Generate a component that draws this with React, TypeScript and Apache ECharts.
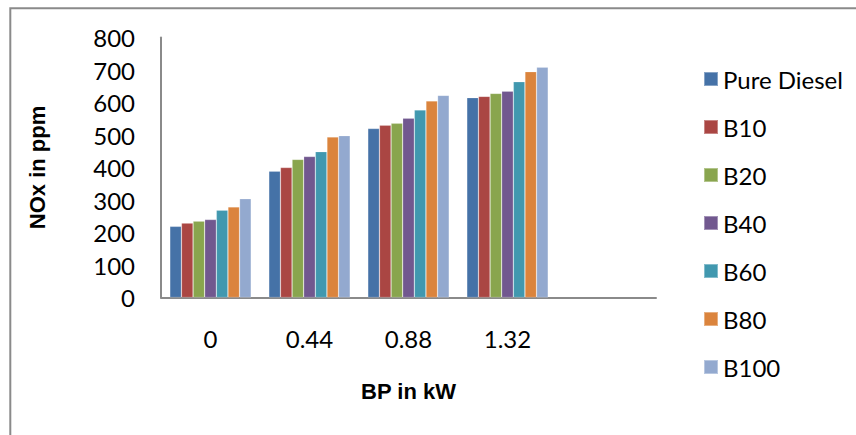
import React, { useEffect, useRef } from "react";
import * as echarts from "echarts";

const categories = ["0", "0.44", "0.88", "1.32", ""];
const seriesNames = ["Pure Diesel", "B10", "B20", "B40", "B60", "B80", "B100"];
const pureDiesel = [219, 389, 520, 615];
const b10 = [229, 400, 530, 619];
const b20 = [235, 425, 536, 628];
const b40 = [240, 434, 552, 635];
const b60 = [269, 449, 577, 664];
const b80 = [279, 494, 605, 695];
const b100 = [304, 498, 622, 709];
const yTicks = { min: 0, max: 800, interval: 100 };
const colors = ["#4572A7", "#AA4643", "#89A54E", "#71588F", "#4198AF", "#DB843D", "#93A9CF"];

export default function App() {
  const ref = useRef<HTMLDivElement>(null);
  useEffect(() => {
    if (!ref.current) return;
    const chart = echarts.init(ref.current, undefined, { renderer: "svg" });
    const values = [pureDiesel, b10, b20, b40, b60, b80, b100];
    chart.setOption({
      animation: false,
      color: colors,
      textStyle: { fontFamily: "Lato, sans-serif" },
      graphic: [
        {
          type: "rect",
          shape: { x: 10.3, y: 8.3, width: 900, height: 500 },
          style: { fill: "none", stroke: "#8a8a8a", lineWidth: 2 },
          silent: true,
        },
      ],
      grid: { left: 161, right: 200, top: 37.5, bottom: 137.5, containLabel: false },
      legend: {
        orient: "vertical",
        left: 698,
        top: 62,
        itemWidth: 14,
        itemHeight: 14,
        itemGap: 24,
        icon: "rect",
        data: seriesNames,
        textStyle: { fontSize: 24, lineHeight: 24, color: "#000", fontFamily: "Lato, sans-serif", padding: 0 },
      },
      xAxis: {
        type: "category",
        data: categories,
        axisLine: { show: true, lineStyle: { color: "#8a8a8a", width: 2 } },
        axisTick: { show: false },
        axisLabel: { fontSize: 24, color: "#000", margin: 29, fontFamily: "Lato, sans-serif" },
        name: "BP in kW",
        nameLocation: "middle",
        nameGap: 83,
        nameTextStyle: { fontSize: 22, fontWeight: "bold", color: "#000", fontFamily: "'Liberation Sans', sans-serif" },
        splitLine: { show: false },
      },
      yAxis: {
        type: "value",
        min: yTicks.min,
        max: yTicks.max,
        interval: yTicks.interval,
        axisLine: { show: true, lineStyle: { color: "#8a8a8a", width: 2 } },
        axisTick: { show: false },
        splitLine: { show: false },
        axisLabel: { fontSize: 24, color: "#000", margin: 26, fontFamily: "Lato, sans-serif" },
        name: "NOx in ppm",
        nameLocation: "middle",
        nameGap: 113,
        nameTextStyle: { fontSize: 22, fontWeight: "bold", color: "#000", fontFamily: "'Liberation Sans', sans-serif" },
      },
      series: seriesNames.map((name, i) => ({
        name,
        type: "bar",
        data: values[i],
        barGap: "0%",
        barCategoryGap: "17.8%",
        itemStyle: { color: colors[i], borderColor: "rgba(255,255,255,0.35)", borderWidth: 0.6 },
      })),
    });
    return () => chart.dispose();
  }, []);
  return (
    <div
      ref={ref}
      style={{ position: "absolute", left: 0, top: 0, width: 856, height: 435, background: "#fff" }}
    />
  );
}
